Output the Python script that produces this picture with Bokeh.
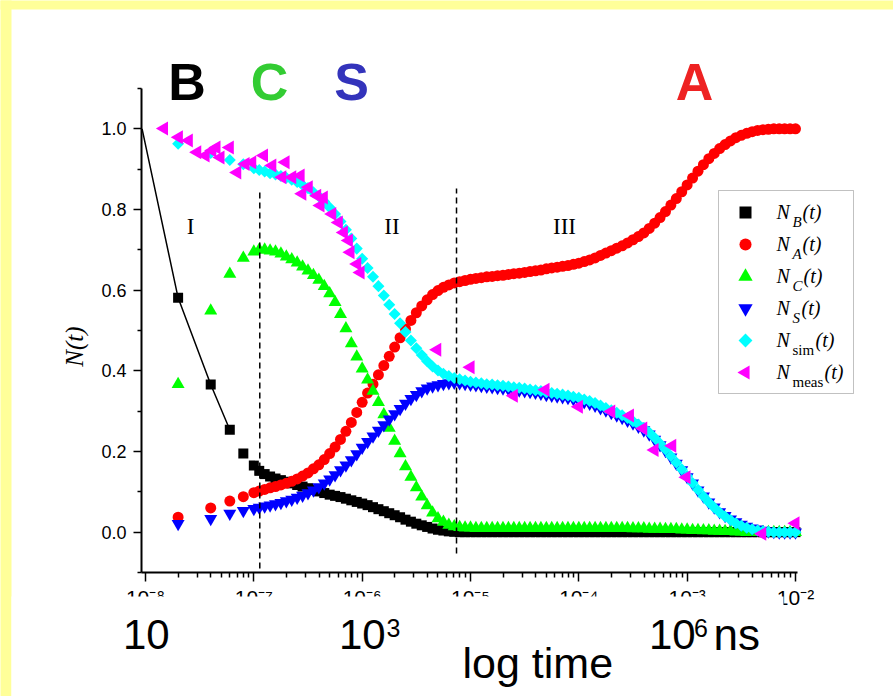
import math
from bokeh.plotting import figure
from bokeh.models import (Range1d, FixedTicker, PrintfTickFormatter, Label, BoxAnnotation)
from bokeh.embed import file_html
from bokeh.resources import INLINE

# ---------------------------------------------------------------- data
# time grid (s): four early samples, then 20 samples per decade, then 1e-2
early_t = [2e-8, 4e-8, 6e-8, 8e-8]
grid_mantissa = [1.0, 1.122, 1.259, 1.413, 1.585, 1.778, 1.995, 2.239, 2.512, 2.818,
                 3.162, 3.548, 3.981, 4.467, 5.012, 5.623, 6.310, 7.079, 7.943, 8.913]
grid_decades = [-7, -6, -5, -4, -3]
last_t = [1e-2]
t = early_t + [m * 10.0 ** d for d in grid_decades for m in grid_mantissa] + last_t

n_B = ([0.581, 0.366, 0.254, 0.195] +
       [0.165, 0.152, 0.144, 0.138, 0.133, 0.129, 0.125, 0.121, 0.117, 0.113,
        0.109, 0.105, 0.101, 0.097, 0.093, 0.090, 0.087, 0.083, 0.079, 0.075] +
       [0.071, 0.067, 0.062, 0.057, 0.052, 0.047, 0.042, 0.037, 0.031, 0.026,
        0.021, 0.017, 0.013, 0.009, 0.006, 0.004, 0.002, 0.001, 0.0, 0.0] +
       [0.0, 0.0, 0.0, 0.0, 0.0, 0.0, 0.0, 0.0, 0.0, 0.0,
        0.0, 0.0, 0.0, 0.0, 0.0, 0.0, 0.0, 0.0, 0.0, 0.0] +
       [0.0, 0.0, 0.0, 0.0, 0.0, 0.0, 0.0, 0.0, 0.0, 0.0,
        0.0, 0.0, 0.0, 0.0, 0.0, 0.0, 0.0, 0.0, 0.0, 0.0] +
       [0.0, 0.0, 0.0, 0.0, 0.0, 0.0, 0.0, 0.0, 0.0, 0.0,
        0.0, 0.0, 0.0, 0.0, 0.0, 0.0, 0.0, 0.0, 0.0, 0.0] +
       [0.0])

n_A = ([0.037, 0.060, 0.077, 0.088] +
       [0.098, 0.102, 0.106, 0.110, 0.113, 0.117, 0.121, 0.126, 0.132, 0.139,
        0.147, 0.157, 0.167, 0.180, 0.195, 0.211, 0.230, 0.250, 0.272, 0.297] +
       [0.322, 0.345, 0.367, 0.390, 0.413, 0.436, 0.459, 0.482, 0.504, 0.525,
        0.544, 0.561, 0.576, 0.589, 0.599, 0.607, 0.613, 0.618, 0.621, 0.624] +
       [0.627, 0.629, 0.631, 0.633, 0.634, 0.636, 0.637, 0.639, 0.641, 0.642,
        0.644, 0.646, 0.648, 0.650, 0.653, 0.655, 0.657, 0.659, 0.661, 0.664] +
       [0.667, 0.671, 0.675, 0.680, 0.686, 0.692, 0.698, 0.704, 0.710, 0.717,
        0.725, 0.733, 0.742, 0.753, 0.766, 0.780, 0.795, 0.811, 0.827, 0.844] +
       [0.861, 0.878, 0.895, 0.911, 0.926, 0.939, 0.951, 0.961, 0.970, 0.978,
        0.984, 0.989, 0.993, 0.996, 0.998, 0.999, 1.000, 1.000, 1.000, 1.000] +
       [1.000])

n_C = ([0.367, 0.549, 0.640, 0.680] +
       [0.695, 0.700, 0.700, 0.698, 0.695, 0.690, 0.683, 0.676, 0.668, 0.658,
        0.648, 0.637, 0.625, 0.610, 0.592, 0.570, 0.540, 0.505, 0.468, 0.435] +
       [0.405, 0.378, 0.350, 0.322, 0.292, 0.258, 0.226, 0.195, 0.163, 0.137,
        0.111, 0.088, 0.066, 0.048, 0.034, 0.025, 0.018, 0.014, 0.012, 0.011] +
       [0.011, 0.010, 0.010, 0.010, 0.010, 0.010, 0.010, 0.010, 0.010, 0.010,
        0.010, 0.010, 0.010, 0.010, 0.010, 0.010, 0.010, 0.010, 0.010, 0.010] +
       [0.010, 0.010, 0.010, 0.010, 0.010, 0.010, 0.010, 0.010, 0.010, 0.010,
        0.009, 0.009, 0.009, 0.008, 0.008, 0.008, 0.007, 0.007, 0.007, 0.006] +
       [0.006, 0.005, 0.005, 0.004, 0.004, 0.003, 0.003, 0.002, 0.002, 0.001,
        0.001, 0.0, 0.0, 0.0, 0.0, 0.0, 0.0, 0.0, 0.0, 0.0] +
       [0.0])

n_S = ([0.021, 0.033, 0.046, 0.053] +
       [0.058, 0.061, 0.064, 0.067, 0.070, 0.073, 0.077, 0.081, 0.086, 0.091,
        0.097, 0.104, 0.112, 0.121, 0.131, 0.142, 0.154, 0.166, 0.179, 0.194] +
       [0.210, 0.224, 0.238, 0.252, 0.266, 0.280, 0.293, 0.306, 0.319, 0.331,
        0.341, 0.350, 0.357, 0.362, 0.365, 0.368, 0.370, 0.371, 0.370, 0.368] +
       [0.366, 0.365, 0.363, 0.361, 0.360, 0.358, 0.357, 0.355, 0.353, 0.352,
        0.350, 0.348, 0.346, 0.344, 0.341, 0.339, 0.337, 0.335, 0.333, 0.330] +
       [0.327, 0.323, 0.319, 0.314, 0.308, 0.302, 0.296, 0.290, 0.284, 0.277,
        0.270, 0.262, 0.253, 0.243, 0.230, 0.216, 0.202, 0.186, 0.170, 0.154] +
       [0.137, 0.121, 0.104, 0.089, 0.074, 0.062, 0.050, 0.041, 0.032, 0.025,
        0.019, 0.014, 0.010, 0.007, 0.004, 0.002, 0.001, 0.0, 0.0, 0.0] +
       [0.0])

n_sim = ([0.963, 0.940, 0.923, 0.912] +
         [0.902, 0.898, 0.894, 0.890, 0.887, 0.883, 0.879, 0.874, 0.868, 0.861,
          0.853, 0.843, 0.833, 0.820, 0.805, 0.789, 0.770, 0.750, 0.728, 0.703] +
         [0.678, 0.655, 0.633, 0.610, 0.587, 0.564, 0.541, 0.518, 0.496, 0.475,
          0.456, 0.439, 0.424, 0.411, 0.401, 0.393, 0.387, 0.382, 0.379, 0.376] +
         [0.373, 0.371, 0.369, 0.367, 0.366, 0.364, 0.363, 0.361, 0.359, 0.358,
          0.356, 0.354, 0.352, 0.350, 0.347, 0.345, 0.343, 0.341, 0.339, 0.336] +
         [0.333, 0.329, 0.325, 0.320, 0.314, 0.308, 0.302, 0.296, 0.290, 0.283,
          0.275, 0.267, 0.258, 0.247, 0.234, 0.220, 0.205, 0.189, 0.173, 0.156] +
         [0.139, 0.122, 0.105, 0.089, 0.074, 0.061, 0.049, 0.039, 0.030, 0.022,
          0.016, 0.011, 0.007, 0.004, 0.002, 0.001, 0.0, 0.0, 0.0, 0.0] +
         [0.0])

t_meas = [1.48e-8, 2.03e-8, 2.51e-8, 3.00e-8, 3.58e-8, 4.13e-8, 4.52e-8, 4.92e-8,
          6.00e-8, 7.02e-8, 8.38e-8, 9.66e-8, 1.24e-7, 1.48e-7, 1.83e-7, 1.96e-7,
          2.26e-7, 2.70e-7, 2.80e-7, 3.21e-7, 3.84e-7, 4.12e-7, 4.42e-7, 5.29e-7,
          6.08e-7, 6.77e-7, 7.53e-7, 7.80e-7, 9.00e-7, 9.66e-7, 4.93e-6, 1.0e-5,
          2.51e-5, 4.92e-5, 1.0e-4, 1.99e-4, 2.96e-4, 3.93e-4, 5.0e-4, 7.28e-4,
          9.86e-4, 4.93e-3, 1.0e-2]
n_meas = [1.001, 0.979, 0.971, 0.942, 0.934, 0.946, 0.954, 0.929,
          0.954, 0.892, 0.913, 0.917, 0.934, 0.909, 0.880, 0.917,
          0.880, 0.884, 0.839, 0.855, 0.834, 0.810, 0.830, 0.789,
          0.768, 0.743, 0.723, 0.694, 0.665, 0.644, 0.452, 0.409,
          0.338, 0.353, 0.311, 0.299, 0.289, 0.257, 0.204, 0.214,
          0.136, -0.004, 0.022]

# black guide line through the first B points
bline_t = [9.3e-9, 2e-8, 4e-8, 6e-8]
bline_n = [1.0, 0.581, 0.366, 0.254]

# stage boundaries (dashed)
boundary_t = [1.135e-7, 7.43e-6]
boundary_top = [0.842, 0.852]
boundary_bottom = [-0.090, -0.053]

# axes
x_major = [1e-8, 1e-7, 1e-6, 1e-5, 1e-4, 1e-3, 1e-2]
x_labels = ["10\u207b\u2078", "10\u207b\u2077", "10\u207b\u2076", "10\u207b\u2075",
            "10\u207b\u2074", "10\u207b\u00b3", "10\u207b\u00b2"]
x_minor_mult = [2, 3, 4, 5, 6, 7, 8, 9]
y_major = [0.0, 0.2, 0.4, 0.6, 0.8, 1.0]
y_minor = [-0.1, 0.1, 0.3, 0.5, 0.7, 0.9, 1.1]

legend_subs = ["B", "A", "C", "S", "sim", "meas"]

# ---------------------------------------------------------------- layout (page px)
PAGE_W, PAGE_H = 893, 696
PANEL_L, PANEL_T = 11, 9                       # yellow bands at top and left
FRAME_L, FRAME_R, FRAME_T, FRAME_B = 141, 797, 88, 572   # axes box
DEC_PX = 108.33
X_LO_EXP = -8 - (145 - FRAME_L) / DEC_PX
X_HI_EXP = X_LO_EXP + (FRAME_R - FRAME_L) / DEC_PX
Y_LO, Y_HI = -0.1, 1.1
PPU = (FRAME_B - FRAME_T) / (Y_HI - Y_LO)
MID = 0.35          # distance baseline -> text middle, in em
YELLOW = "#FFFF99"


def xd(px):
    return 10 ** (X_LO_EXP + (px - FRAME_L) / DEC_PX)


def yd(py):
    return Y_HI - (py - FRAME_T) / PPU


def text(txt, px, baseline, size, font="Liberation Sans", style="normal",
         align="left", color="black", level="annotation"):
    """Label whose alphabetic baseline sits at page pixel row `baseline`."""
    p.add_layout(Label(x=xd(px), y=yd(baseline - MID * size), text=txt,
                       text_font=font, text_font_style=style, text_font_size=f"{size}px",
                       text_color=color, text_align=align, text_baseline="middle",
                       level=level))


# the plotting frame covers the whole page; the axes are pinned at fixed locations
p = figure(width=PAGE_W, height=PAGE_H,
           x_axis_type="log",
           x_range=Range1d(xd(0), xd(PAGE_W)),
           y_range=Range1d(yd(PAGE_H), yd(0)),
           output_backend="svg", toolbar_location=None,
           min_border=0, min_border_left=0, min_border_right=0,
           min_border_top=0, min_border_bottom=0)
p.grid.visible = False
p.outline_line_color = None
p.background_fill_color = "white"
p.border_fill_color = "white"

# yellow page bands (top and left)
p.add_layout(BoxAnnotation(left=xd(-10), right=xd(PAGE_W + 10), top=yd(-10), bottom=yd(PANEL_T),
                           fill_color=YELLOW, fill_alpha=1.0, line_color=None, level="underlay"))
p.add_layout(BoxAnnotation(left=xd(-10), right=xd(PANEL_L), top=yd(-10), bottom=yd(PAGE_H + 10),
                           fill_color=YELLOW, fill_alpha=1.0, line_color=None, level="underlay"))

# x axis
xa = p.xaxis[0]
xa.fixed_location = Y_LO
xa.bounds = (10 ** X_LO_EXP, 10 ** X_HI_EXP)
xa.ticker = FixedTicker(ticks=x_major,
                        minor_ticks=[m * d for d in x_major[:-1] for m in x_minor_mult])
xa.major_label_overrides = dict(zip(x_major, x_labels))
xa.axis_line_width = 2
xa.major_tick_in = 0
xa.major_tick_out = 9
xa.minor_tick_in = 0
xa.minor_tick_out = 5
xa.major_tick_line_width = 1.5
xa.minor_tick_line_width = 1.5
xa.major_label_text_font = "Liberation Sans"
xa.major_label_text_font_size = "21px"
xa.major_label_text_color = "black"
xa.major_label_standoff = 4

# y axis
ya = p.yaxis[0]
ya.fixed_location = 10 ** X_LO_EXP
ya.bounds = (Y_LO, Y_HI)
ya.ticker = FixedTicker(ticks=y_major, minor_ticks=y_minor)
ya.formatter = PrintfTickFormatter(format="%.1f")
ya.axis_line_width = 2
ya.major_tick_in = 0
ya.major_tick_out = 8
ya.minor_tick_in = 0
ya.minor_tick_out = 4
ya.major_tick_line_width = 1.5
ya.minor_tick_line_width = 1.5
ya.major_label_text_font = "Liberation Sans"
ya.major_label_text_font_size = "18px"
ya.major_label_text_color = "black"
ya.major_label_standoff = 7

# ---------------------------------------------------------------- glyphs
styles = {
    "B": dict(marker="square", size=10, fill_color="black", angle=0.0),
    "A": dict(marker="circle", size=11, fill_color="#FF0000", angle=0.0),
    "C": dict(marker="triangle", size=13, fill_color="#00FF00", angle=0.0),
    "S": dict(marker="inverted_triangle", size=13, fill_color="#0000FF", angle=0.0),
    "sim": dict(marker="square", size=8.5, fill_color="#00FFFF", angle=math.pi / 4),
    "meas": dict(marker="triangle", size=14, fill_color="#FF00FF", angle=math.pi / 2),
}

p.line(bline_t, bline_n, line_color="black", line_width=1.5)
p.scatter(t, n_B, line_color=None, **styles["B"])
p.scatter(t, n_A, line_color=None, **styles["A"])
p.scatter(t, n_C, line_color=None, **styles["C"])
p.scatter(t, n_S, line_color=None, **styles["S"])
p.scatter(t, n_sim, line_color=None, **styles["sim"])
p.segment(x0=boundary_t, y0=boundary_bottom, x1=boundary_t, y1=boundary_top,
          line_color="black", line_width=1.5, line_dash="6 4")
p.scatter(t_meas, n_meas, line_color=None, **styles["meas"])

# ---------------------------------------------------------------- legend (drawn by hand)
LEG_L, LEG_T, LEG_R, LEG_B = 718, 190, 853, 393
LEG_ROW0, LEG_STEP, LEG_SWATCH_X, LEG_TEXT_X = 212, 32, 745, 776
legend_swatch_scale = {"B": 1.2, "A": 1.1, "C": 1.1, "S": 1.1, "sim": 1.15, "meas": 1.0}
p.add_layout(BoxAnnotation(left=xd(LEG_L), right=xd(LEG_R), top=yd(LEG_T), bottom=yd(LEG_B),
                           fill_alpha=0.0, line_color="#333333", line_width=1))
sub_widths = [9, 9, 10, 8, 22, 31]
for i, sub in enumerate(legend_subs):
    cy = LEG_ROW0 + i * LEG_STEP
    st = dict(styles[sub])
    st["size"] = st["size"] * legend_swatch_scale[sub]
    p.scatter(x=[xd(LEG_SWATCH_X)], y=[yd(cy)], line_color=None, **st)
    base = cy + 6.5
    text("N", LEG_TEXT_X, base, 20, font="Liberation Serif", style="italic", level="overlay")
    sx = LEG_TEXT_X + 16
    text(sub, sx, base + 8, 15, font="Liberation Serif",
         style="italic" if len(sub) == 1 else "normal", level="overlay")
    text("(t)", sx + sub_widths[i] + 1, base, 20, font="Liberation Serif", style="italic",
         level="overlay")

# ---------------------------------------------------------------- annotations
for txt, cx, col in [("B", 186.5, "#000000"), ("C", 269, "#33CC33"),
                     ("S", 351, "#3333BB"), ("A", 694, "#EE2222")]:
    text(txt, cx, 100, 52, style="bold", align="center", color=col)

for txt, cx in [("I", 190), ("II", 391.5), ("III", 564)]:
    text(txt, cx, 234, 23, font="Liberation Serif", align="center")

p.add_layout(Label(x=xd(74), y=yd(346), text="N(t)", angle=math.pi / 2,
                   text_font="Liberation Serif", text_font_style="italic",
                   text_font_size="25px", text_color="black",
                   text_align="center", text_baseline="middle"))

# white cover hiding the lower part of the x tick labels (as in the original)
p.add_layout(BoxAnnotation(left=xd(PANEL_L), right=xd(783), top=yd(596), bottom=yd(PAGE_H + 10),
                           fill_color="white", fill_alpha=1.0, line_color=None,
                           level="overlay"))

text("10", 122.5, 649, 42, level="overlay")
text("10", 338.5, 649, 42, level="overlay")
text("3", 386, 636, 25, level="overlay")
text("10", 648.5, 649, 42, level="overlay")
text("6", 693.5, 636, 25, level="overlay")
text("ns", 713, 649, 44, level="overlay")
text("log time", 462, 678, 43, level="overlay")

open("out.html", "w").write(file_html(p, INLINE))
